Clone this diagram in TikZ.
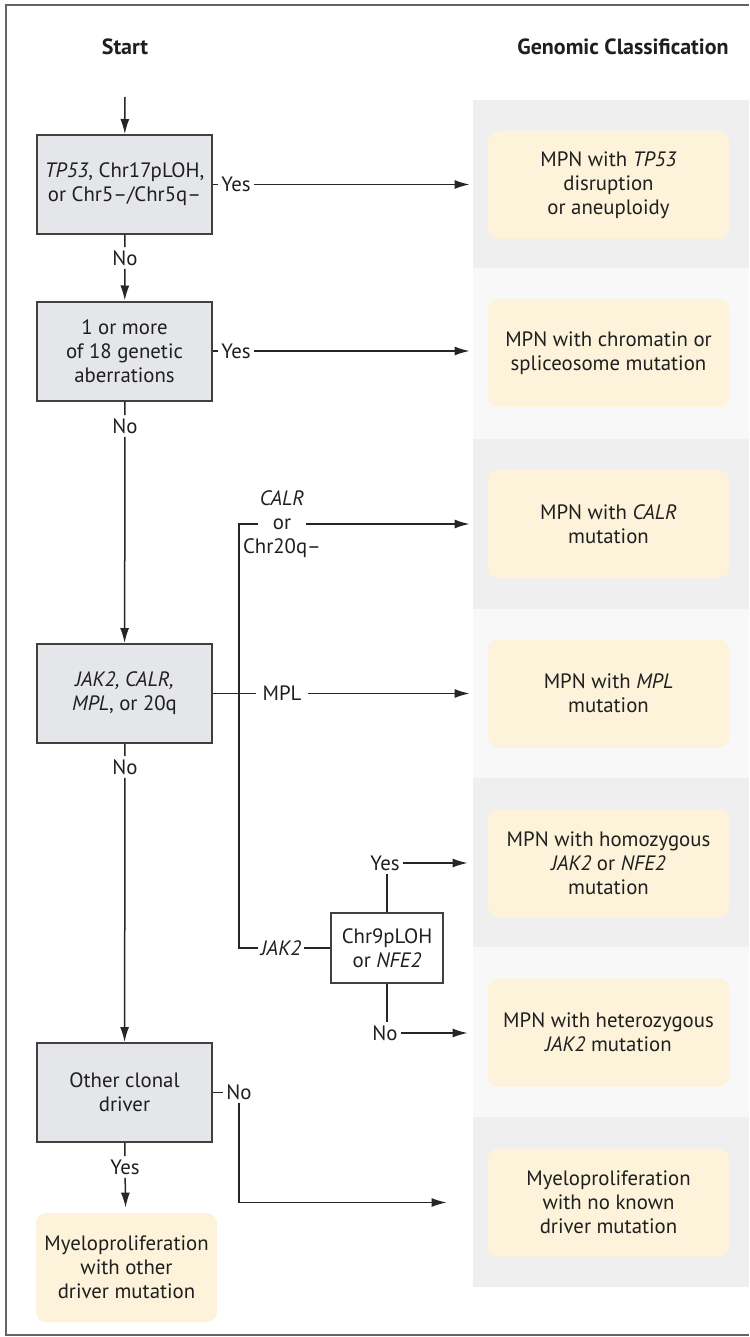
\documentclass[tikz,border=0pt]{standalone}
\usepackage{fontspec}
\setmainfont{PT Sans}
\usetikzlibrary{arrows.meta,positioning}

\definecolor{testgray}{RGB}{229,230,233}
\definecolor{testline}{RGB}{64,64,64}
\definecolor{bandgray}{RGB}{239,239,239}
\definecolor{bandlight}{RGB}{248,248,248}
\definecolor{resultyellow}{RGB}{253,243,218}
\definecolor{framegray}{RGB}{100,100,100}

\begin{document}
\begin{tikzpicture}[x=0.5pt, y=-0.5pt, font=\fontsize{10.4}{12}\selectfont, text=black!88]
\tikzstyle{test} = [rectangle, draw=testline, line width=1pt, fill=testgray, minimum width=87.5pt, minimum height=49.5pt, align=center, inner sep=1pt]
\tikzstyle{subtest} = [test, fill=white, minimum width=56pt, minimum height=35pt]
\tikzstyle{result} = [rectangle, fill=resultyellow, rounded corners=5pt, minimum width=120.5pt, minimum height=54pt, align=center]
\tikzstyle{answer} = [inner sep=1.5pt]
\tikzstyle{head} = [font=\fontsize{11}{13}\selectfont\bfseries]
\tikzstyle{link} = [line width=0.75pt, draw=black!85]
\tikzstyle{arrow} = [link, -{Latex[length=7.5pt,width=4.5pt]}]

\useasboundingbox (0,0) rectangle (749,1337);
\draw [framegray, line width=1pt] (749,5) -- (6,5) -- (6,1335) -- (749,1335);

\foreach \ya/\yb/\shade in {100/268/bandgray, 268/439/bandlight, 439/609/bandgray, 609/778/bandlight, 778/947/bandgray, 947/1117/bandlight, 1117/1287/bandgray}
  \fill [\shade] (473,\ya) rectangle (749,\yb);

\node [head] (start) at (125,47) {Start};
\node [head] (classif) at (623,47) {Genomic Classification};

\node [test] (tp53) at (124.5,184.5) {\textit{TP53}, Chr17pLOH,\\or Chr5–/Chr5q–};
\node [test] (aberr) at (124.5,351) {1 or more\\of 18 genetic\\aberrations};
\node [test] (driver) at (124.5,693.5) {\textit{JAK2, CALR,}\\\textit{MPL}, or 20q};
\node [test] (clonal) at (124.5,1092.5) {Other clonal\\driver};
\node [subtest] (chr9) at (387,948) {Chr9pLOH\\or \textit{NFE2}};

\node [result] (resTP53) at (608.5,185) {MPN with \textit{TP53}\\disruption\\or aneuploidy};
\node [result] (resChrom) at (608.5,353) {MPN with chromatin or\\spliceosome mutation};
\node [result] (resCALR) at (608.5,524) {MPN with \textit{CALR}\\mutation};
\node [result] (resMPL) at (608.5,693.5) {MPN with \textit{MPL}\\mutation};
\node [result] (resHomo) at (608.5,863) {MPN with homozygous\\\textit{JAK2} or \textit{NFE2}\\mutation};
\node [result] (resHetero) at (608.5,1032.5) {MPN with heterozygous\\\textit{JAK2} mutation};
\node [result] (resNone) at (608.5,1202.5) {Myeloproliferation\\with no known\\driver mutation};
\node [result, minimum width=90.5pt, minimum height=54.5pt] (resOther) at (126.5,1267.5) {Myeloproliferation\\with other\\driver mutation};

\coordinate (entry) at (125,97);
\coordinate (split) at (239,693.5);

\node [answer] (no1) at (125,258) {No};
\node [answer] (no2) at (125,426) {No};
\node [answer] (no3) at (125,767) {No};
\node [answer] (yes4) at (125,1167) {Yes};
\node [answer, right=2.5pt of tp53] (yes1) {Yes};
\node [answer, right=2.5pt of aberr] (yes2) {Yes};
\node [answer, right=5pt of clonal] (no4) {No};
\node [answer, inner xsep=3pt] (mpl) at (282,693.5) {MPL};
\node [answer, inner xsep=7pt] (orlbl) at (282,524) {or};
\node [answer, anchor=base] (calrname) at ([yshift=12pt]orlbl.base) {\textit{CALR}};
\node [answer, anchor=base] (chr20) at ([yshift=-12pt]orlbl.base) {Chr20q–};
\node [answer] (jak) at (281,948) {\textit{JAK2}};
\node [answer] (yes5) at (385,863) {Yes};
\node [answer] (no5) at (385,1033) {No};

\draw [arrow] (entry) -- (tp53);
\draw [link] (tp53) -- (no1);
\draw [arrow] (no1) -- (aberr);
\draw [link] (aberr) -- (no2);
\draw [arrow] (no2) -- (driver);
\draw [link] (driver) -- (no3);
\draw [arrow] (no3) -- (clonal);
\draw [link] (clonal) -- (yes4);
\draw [arrow, shorten >=2.5pt] (yes4) -- (resOther);

\draw [link] (tp53) -- (yes1);
\draw [arrow, shorten >=9pt] (yes1) -- (yes1 -| resTP53.west);
\draw [link] (aberr) -- (yes2);
\draw [arrow, shorten >=9pt] (yes2) -- (yes2 -| resChrom.west);

\draw [link] (driver.east) -- (mpl.west);
\draw [arrow, shorten >=9pt] (mpl) -- (mpl -| resMPL.west);
\draw [link] (orlbl.west) -| (split) |- (jak.west);
\draw [arrow, shorten >=9pt] (orlbl) -- (orlbl -| resCALR.west);
\draw [link] (jak) -- (chr9);

\draw [link] (chr9.north) -- (chr9.north |- yes5.south);
\draw [arrow, shorten >=10pt] (yes5) -- (yes5 -| resHomo.west);
\draw [link] (chr9.south) -- (chr9.south |- no5.north);
\draw [arrow, shorten >=10pt] (no5) -- (no5 -| resHetero.west);

\draw [link] (clonal.east |- no4) -- (no4);
\draw [arrow, shorten >=20.5pt] (no4.south) |- (resNone.west);
\end{tikzpicture}
\end{document}
